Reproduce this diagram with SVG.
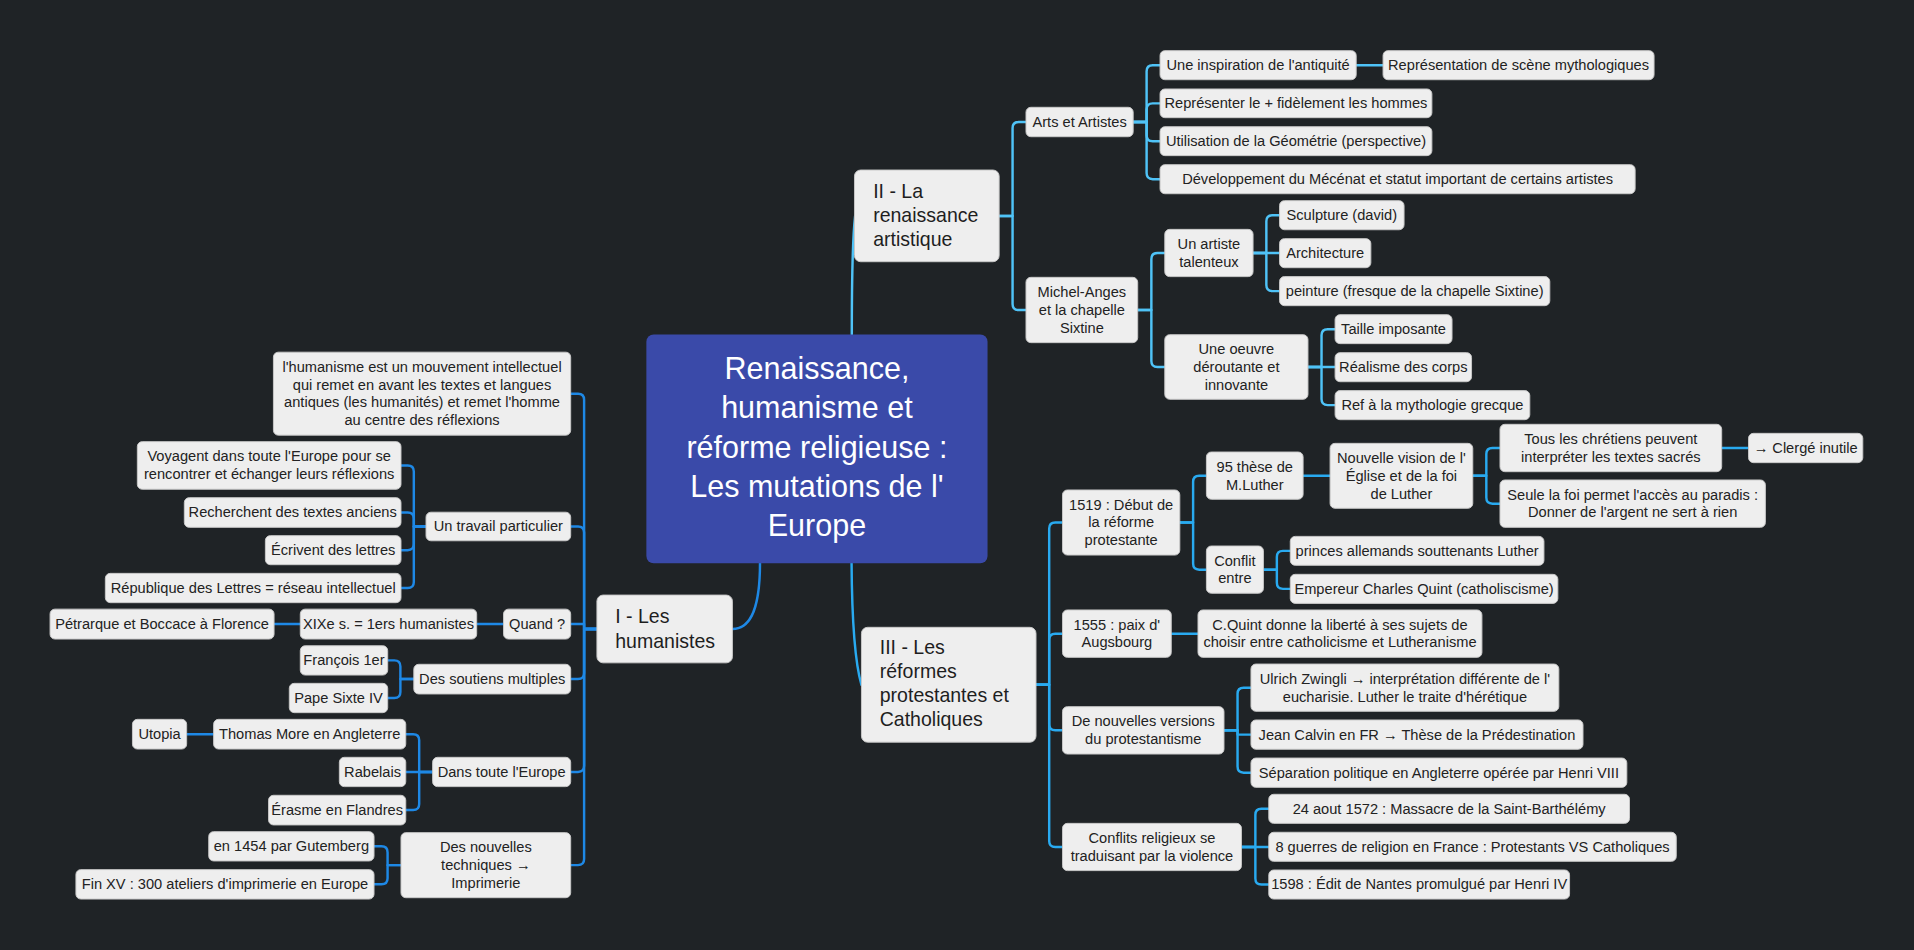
<svg xmlns="http://www.w3.org/2000/svg" width="1914" height="950" viewBox="0 0 1914 950">
<style>
.n rect{fill:#eeeeee;stroke:#c8c8c8;stroke-width:0.8}
.t{font-family:"Liberation Sans",Arial,sans-serif;font-size:12px;fill:#222;text-anchor:middle}
.m{font-family:"Liberation Sans",Arial,sans-serif;font-size:16px;fill:#1e1e1e}
.ct{font-family:"Liberation Sans",Arial,sans-serif;font-size:25px;fill:#ffffff;text-anchor:middle}
.c path{fill:none;stroke-width:2;stroke-linecap:round;stroke-linejoin:round}
.b1 path{stroke:#1e88e5}
.b2 path{stroke:#4fc3f7}
.b3 path{stroke:#29aaf0}
</style>
<rect width="1914" height="950" fill="#1f2326"/>
<g transform="scale(1.2207)">
<g id="connectors" class="c">
<g class="b1">
<path d="M622.6 461 C622.6 505 612 515.3 600 515.3"/>
<path d="M489 515.3 H478.5 V327.5 Q478.5 322.5 473.5 322.5 H467.5"/>
<path d="M489 515.3 H478.5 V436.3 Q478.5 431.3 473.5 431.3 H467.5"/>
<path d="M489 515.3 H478.5 V511.2 H467.5"/>
<path d="M489 515.3 H478.5 V551.3 Q478.5 556.3 473.5 556.3 H467.5"/>
<path d="M489 515.3 H478.5 V627.4 Q478.5 632.4 473.5 632.4 H467.5"/>
<path d="M489 515.3 H478.5 V703.7 Q478.5 708.7 473.5 708.7 H467.5"/>
<path d="M349 431.3 H339 V386.3 Q339 381.3 334 381.3 H328.5"/>
<path d="M349 431.3 H339 V424.8 Q339 419.8 334 419.8 H328.5"/>
<path d="M349 431.3 H339 V445.7 Q339 450.7 334 450.7 H328.5"/>
<path d="M349 431.3 H339 V476.7 Q339 481.7 334 481.7 H328.5"/>
<path d="M412.5 511.2 H390.5"/>
<path d="M246 511.2 H224.5"/>
<path d="M339 556.3 H328 V546 Q328 541 323 541 H317.6"/>
<path d="M339 556.3 H328 V566.8 Q328 571.8 323 571.8 H317.6"/>
<path d="M354.4 632.4 H343.4 V606.5 Q343.4 601.5 338.4 601.5 H332.4"/>
<path d="M354.4 632.4 H332.4"/>
<path d="M354.4 632.4 H343.4 V658.6 Q343.4 663.6 338.4 663.6 H332.4"/>
<path d="M175 601.5 H152.9"/>
<path d="M328.5 708.7 H317.5 V698.3 Q317.5 693.3 312.5 693.3 H306.4"/>
<path d="M328.5 708.7 H317.5 V719.4 Q317.5 724.4 312.5 724.4 H306.4"/>
</g>
<g class="b2">
<path d="M697.8 274 C697.8 220 699 190 700.5 177"/>
<path d="M818.5 176.9 H829.5 V105 Q829.5 100 834.5 100 H840.5"/>
<path d="M818.5 176.9 H829.5 V249 Q829.5 254 834.5 254 H840.5"/>
<path d="M928.3 100 H939.3 V58.4 Q939.3 53.4 944.3 53.4 H950.3"/>
<path d="M928.3 100 H939.3 V89.7 Q939.3 84.7 944.3 84.7 H950.3"/>
<path d="M928.3 100 H939.3 V110.7 Q939.3 115.7 944.3 115.7 H950.3"/>
<path d="M928.3 100 H939.3 V141.8 Q939.3 146.8 944.3 146.8 H950.3"/>
<path d="M1111 53.4 H1133"/>
<path d="M932 254 H943.2 V212.3 Q943.2 207.3 948.2 207.3 H954.2"/>
<path d="M932 254 H943.2 V295.7 Q943.2 300.7 948.2 300.7 H954.2"/>
<path d="M1026.5 207.3 H1037.4 V181.3 Q1037.4 176.3 1042.4 176.3 H1048.2"/>
<path d="M1026.5 207.3 H1048.2"/>
<path d="M1026.5 207.3 H1037.4 V233.5 Q1037.4 238.5 1042.4 238.5 H1048.2"/>
<path d="M1071.5 300.7 H1082.6 V274.7 Q1082.6 269.7 1087.6 269.7 H1093.7"/>
<path d="M1071.5 300.7 H1093.7"/>
<path d="M1071.5 300.7 H1082.6 V326.9 Q1082.6 331.9 1087.6 331.9 H1093.7"/>
</g>
<g class="b3">
<path d="M697.6 461 C698 520 701 545 705.7 561"/>
<path d="M848.7 561 H859.5 V433 Q859.5 428 864.5 428 H870.4"/>
<path d="M848.7 561 H859.5 V524.1 Q859.5 519.1 864.5 519.1 H870.4"/>
<path d="M848.7 561 H859.5 V593.3 Q859.5 598.3 864.5 598.3 H870.4"/>
<path d="M848.7 561 H859.5 V688.9 Q859.5 693.9 864.5 693.9 H870.4"/>
<path d="M966.5 428 H977.4 V394.7 Q977.4 389.7 982.4 389.7 H988.3"/>
<path d="M966.5 428 H977.4 V461.7 Q977.4 466.7 982.4 466.7 H988.3"/>
<path d="M1067.5 389.7 H1089.6"/>
<path d="M1206.5 389.8 H1217.6 V372 Q1217.6 367 1222.6 367 H1228.8"/>
<path d="M1206.5 389.8 H1217.6 V407.6 Q1217.6 412.6 1222.6 412.6 H1228.8"/>
<path d="M1410.4 367 H1432.4"/>
<path d="M1035 466.7 H1046 V456.3 Q1046 451.3 1051 451.3 H1057"/>
<path d="M1035 466.7 H1046 V477.4 Q1046 482.4 1051 482.4 H1057"/>
<path d="M959.5 519.1 H981.4"/>
<path d="M1002.7 598.3 H1013.8 V568.4 Q1013.8 563.4 1018.8 563.4 H1024.8"/>
<path d="M1002.7 598.3 H1013.8 V601.8 H1024.8"/>
<path d="M1002.7 598.3 H1013.8 V628 Q1013.8 633 1018.8 633 H1024.8"/>
<path d="M1017 693.9 H1028.4 V667.6 Q1028.4 662.6 1033.4 662.6 H1039.4"/>
<path d="M1017 693.9 H1039.4"/>
<path d="M1017 693.9 H1028.4 V719.6 Q1028.4 724.6 1033.4 724.6 H1039.4"/>
</g>
</g>

<g id="central"><rect x="529.5" y="274" width="279.5" height="187.5" rx="6" fill="#3a4aa9"/>
<text class="ct" x="669.25" y="310.5"><tspan x="669.25">Renaissance,</tspan><tspan x="669.25" dy="32.2">humanisme et</tspan><tspan x="669.25" dy="32.2">réforme religieuse :</tspan><tspan x="669.25" dy="32.2">Les mutations de l'</tspan><tspan x="669.25" dy="32.2">Europe</tspan></text></g>

<g id="main1" class="n"><rect x="489" y="487.5" width="111" height="55.5" rx="5"/><text class="m" x="504" y="510.5"><tspan x="504">I - Les</tspan><tspan x="504" dy="20.5">humanistes</tspan></text></g>
<g id="main2" class="n"><rect x="700" y="139.3" width="118.5" height="75.1" rx="5"/><text class="m" x="715.3" y="162"><tspan x="715.3">II - La</tspan><tspan x="715.3" dy="19.8">renaissance</tspan><tspan x="715.3" dy="19.8">artistique</tspan></text></g>
<g id="main3" class="n"><rect x="705.7" y="513.9" width="143" height="94.1" rx="5"/><text class="m" x="720.7" y="536"><tspan x="720.7">III - Les</tspan><tspan x="720.7" dy="19.6">réformes</tspan><tspan x="720.7" dy="19.6">protestantes et</tspan><tspan x="720.7" dy="19.6">Catholiques</tspan></text></g>

<g id="n-humanisme" class="n"><rect x="224" y="288.5" width="243.5" height="68" rx="4"/><text class="t" x="345.75" y="304.6"><tspan x="345.75">l'humanisme est un mouvement intellectuel</tspan><tspan x="345.75" dy="14.6">qui remet en avant les textes et langues</tspan><tspan x="345.75" dy="14.6">antiques (les humanités) et remet l'homme</tspan><tspan x="345.75" dy="14.6">au centre des réflexions</tspan></text></g>
<g id="n-travail" class="n"><rect x="349" y="419.6" width="118.5" height="23.4" rx="4"/><text class="t" x="408.25" y="435.3">Un travail particulier</text></g>
<g id="n-voyagent" class="n"><rect x="112.5" y="361.8" width="216" height="39" rx="4"/><text class="t" x="220.5" y="378"><tspan x="220.5">Voyagent dans toute l'Europe pour se</tspan><tspan x="220.5" dy="14.6">rencontrer et échanger leurs réflexions</tspan></text></g>
<g id="n-recherchent" class="n"><rect x="151" y="407.7" width="177.5" height="24.3" rx="4"/><text class="t" x="239.75" y="423.8">Recherchent des textes anciens</text></g>
<g id="n-ecrivent" class="n"><rect x="217.4" y="438.8" width="111.1" height="23.8" rx="4"/><text class="t" x="272.95" y="454.7">Écrivent des lettres</text></g>
<g id="n-republique" class="n"><rect x="86.3" y="469.7" width="242.2" height="24" rx="4"/><text class="t" x="207.4" y="485.7">République des Lettres = réseau intellectuel</text></g>
<g id="n-quand" class="n"><rect x="412.5" y="499" width="55" height="24.5" rx="4"/><text class="t" x="440" y="515.2">Quand ?</text></g>
<g id="n-xixe" class="n"><rect x="246" y="499" width="144.5" height="24.5" rx="4"/><text class="t" x="318.25" y="515.2">XIXe s. = 1ers humanistes</text></g>
<g id="n-petrarque" class="n"><rect x="41" y="499" width="183.5" height="24.5" rx="4"/><text class="t" x="132.75" y="515.2">Pétrarque et Boccace à Florence</text></g>
<g id="n-soutiens" class="n"><rect x="339" y="544.2" width="128.5" height="24.3" rx="4"/><text class="t" x="403.25" y="560.3">Des soutiens multiples</text></g>
<g id="n-francois" class="n"><rect x="246" y="529" width="71.6" height="24" rx="4"/><text class="t" x="281.8" y="545">François 1er</text></g>
<g id="n-pape" class="n"><rect x="237" y="559.8" width="80.6" height="24" rx="4"/><text class="t" x="277.3" y="575.8">Pape Sixte IV</text></g>
<g id="n-europe" class="n"><rect x="354.4" y="620.4" width="113.1" height="24" rx="4"/><text class="t" x="410.95" y="636.4">Dans toute l'Europe</text></g>
<g id="n-thomas" class="n"><rect x="175" y="589.3" width="157.4" height="24.3" rx="4"/><text class="t" x="253.7" y="605.5">Thomas More en Angleterre</text></g>
<g id="n-utopia" class="n"><rect x="108.5" y="589.3" width="44.4" height="24.3" rx="4"/><text class="t" x="130.7" y="605.5">Utopia</text></g>
<g id="n-rabelais" class="n"><rect x="278" y="620.4" width="54.4" height="24" rx="4"/><text class="t" x="305.2" y="636.4">Rabelais</text></g>
<g id="n-erasme" class="n"><rect x="220" y="651.5" width="112.4" height="24.3" rx="4"/><text class="t" x="276.2" y="667.6">Érasme en Flandres</text></g>
<g id="n-techniques" class="n"><rect x="328.5" y="682.1" width="139" height="53.3" rx="4"/><text class="t" x="398" y="698.1"><tspan x="398">Des nouvelles</tspan><tspan x="398" dy="14.6">techniques →</tspan><tspan x="398" dy="14.6">Imprimerie</tspan></text></g>
<g id="n-gutemberg" class="n"><rect x="171" y="681.3" width="135.4" height="24" rx="4"/><text class="t" x="238.7" y="697.3">en 1454 par Gutemberg</text></g>
<g id="n-finxv" class="n"><rect x="62.2" y="712.4" width="244.2" height="24.1" rx="4"/><text class="t" x="184.3" y="728.4">Fin XV : 300 ateliers d'imprimerie en Europe</text></g>

<g id="n-arts" class="n"><rect x="840.5" y="87.9" width="87.8" height="24.1" rx="4"/><text class="t" x="884.4" y="104">Arts et Artistes</text></g>
<g id="n-michel" class="n"><rect x="840.5" y="227.2" width="91.5" height="53.5" rx="4"/><text class="t" x="886.25" y="243.4"><tspan x="886.25">Michel-Anges</tspan><tspan x="886.25" dy="14.6">et la chapelle</tspan><tspan x="886.25" dy="14.6">Sixtine</tspan></text></g>
<g id="n-inspiration" class="n"><rect x="950.3" y="41.5" width="160.7" height="23.8" rx="4"/><text class="t" x="1030.65" y="57.4">Une inspiration de l'antiquité</text></g>
<g id="n-scene" class="n"><rect x="1133" y="41.5" width="222" height="23.8" rx="4"/><text class="t" x="1244" y="57.4">Représentation de scène mythologiques</text></g>
<g id="n-representer" class="n"><rect x="950.3" y="72.9" width="222.7" height="23.5" rx="4"/><text class="t" x="1061.65" y="88.7">Représenter le + fidèlement les hommes</text></g>
<g id="n-geometrie" class="n"><rect x="950.3" y="103.8" width="222.7" height="23.7" rx="4"/><text class="t" x="1061.65" y="119.7">Utilisation de la Géométrie (perspective)</text></g>
<g id="n-mecenat" class="n"><rect x="950.3" y="134.9" width="389.2" height="23.8" rx="4"/><text class="t" x="1144.9" y="150.8">Développement du Mécénat et statut important de certains artistes</text></g>
<g id="n-artiste" class="n"><rect x="954.2" y="187.9" width="72.3" height="38.7" rx="4"/><text class="t" x="990.35" y="204"><tspan x="990.35">Un artiste</tspan><tspan x="990.35" dy="14.6">talenteux</tspan></text></g>
<g id="n-sculpture" class="n"><rect x="1048.2" y="164.4" width="102" height="23.8" rx="4"/><text class="t" x="1099.2" y="180.3">Sculpture (david)</text></g>
<g id="n-architecture" class="n"><rect x="1048.2" y="195.5" width="74.8" height="23.8" rx="4"/><text class="t" x="1085.6" y="211.4">Architecture</text></g>
<g id="n-peinture" class="n"><rect x="1048.2" y="226.6" width="221.4" height="23.8" rx="4"/><text class="t" x="1158.9" y="242.5">peinture (fresque de la chapelle Sixtine)</text></g>
<g id="n-oeuvre" class="n"><rect x="954.2" y="274.2" width="117.3" height="52.9" rx="4"/><text class="t" x="1012.85" y="290.1"><tspan x="1012.85">Une oeuvre</tspan><tspan x="1012.85" dy="14.6">déroutante et</tspan><tspan x="1012.85" dy="14.6">innovante</tspan></text></g>
<g id="n-taille" class="n"><rect x="1093.7" y="257.8" width="95.8" height="23.7" rx="4"/><text class="t" x="1141.6" y="273.7">Taille imposante</text></g>
<g id="n-realisme" class="n"><rect x="1093.7" y="288.9" width="111.8" height="23.8" rx="4"/><text class="t" x="1149.6" y="304.8">Réalisme des corps</text></g>
<g id="n-ref" class="n"><rect x="1093.7" y="320" width="159.5" height="23.8" rx="4"/><text class="t" x="1173.45" y="335.9">Ref à la mythologie grecque</text></g>

<g id="n-1519" class="n"><rect x="870.4" y="401.4" width="96.1" height="53.3" rx="4"/><text class="t" x="918.45" y="417.4"><tspan x="918.45">1519 : Début de</tspan><tspan x="918.45" dy="14.6">la réforme</tspan><tspan x="918.45" dy="14.6">protestante</tspan></text></g>
<g id="n-95" class="n"><rect x="988.3" y="370.3" width="79.2" height="38.7" rx="4"/><text class="t" x="1027.9" y="386.4"><tspan x="1027.9">95 thèse de</tspan><tspan x="1027.9" dy="14.6">M.Luther</tspan></text></g>
<g id="n-nouvelle" class="n"><rect x="1089.6" y="363.2" width="116.9" height="53.2" rx="4"/><text class="t" x="1148.05" y="379.2"><tspan x="1148.05">Nouvelle vision de l'</tspan><tspan x="1148.05" dy="14.6">Église et de la foi</tspan><tspan x="1148.05" dy="14.6">de Luther</tspan></text></g>
<g id="n-tous" class="n"><rect x="1228.8" y="347.6" width="181.6" height="38.8" rx="4"/><text class="t" x="1319.6" y="363.7"><tspan x="1319.6">Tous les chrétiens peuvent</tspan><tspan x="1319.6" dy="14.6">interpréter les textes sacrés</tspan></text></g>
<g id="n-clerge" class="n"><rect x="1432.4" y="355" width="93.6" height="24" rx="4"/><text class="t" x="1479.2" y="371">→ Clergé inutile</text></g>
<g id="n-seule" class="n"><rect x="1228.8" y="393.2" width="217.4" height="38.8" rx="4"/><text class="t" x="1337.5" y="409.3"><tspan x="1337.5">Seule la foi permet l'accès au paradis :</tspan><tspan x="1337.5" dy="14.6">Donner de l'argent ne sert à rien</tspan></text></g>
<g id="n-conflit" class="n"><rect x="988.3" y="447.3" width="46.7" height="38.7" rx="4"/><text class="t" x="1011.65" y="463.4"><tspan x="1011.65">Conflit</tspan><tspan x="1011.65" dy="14.6">entre</tspan></text></g>
<g id="n-princes" class="n"><rect x="1057" y="439.4" width="207.8" height="23.7" rx="4"/><text class="t" x="1160.9" y="455.3">princes allemands souttenants Luther</text></g>
<g id="n-empereur" class="n"><rect x="1057" y="470.5" width="219.2" height="23.8" rx="4"/><text class="t" x="1166.6" y="486.4">Empereur Charles Quint (catholiscisme)</text></g>
<g id="n-1555" class="n"><rect x="870.4" y="499.7" width="89.1" height="38.8" rx="4"/><text class="t" x="914.95" y="515.8"><tspan x="914.95">1555 : paix d'</tspan><tspan x="914.95" dy="14.6">Augsbourg</tspan></text></g>
<g id="n-cquint" class="n"><rect x="981.4" y="499.7" width="232.6" height="38.8" rx="4"/><text class="t" x="1097.7" y="515.8"><tspan x="1097.7">C.Quint donne la liberté à ses sujets de</tspan><tspan x="1097.7" dy="14.6">choisir entre catholicisme et Lutheranisme</tspan></text></g>
<g id="n-versions" class="n"><rect x="870.4" y="578.9" width="132.3" height="38.8" rx="4"/><text class="t" x="936.55" y="595"><tspan x="936.55">De nouvelles versions</tspan><tspan x="936.55" dy="14.6">du protestantisme</tspan></text></g>
<g id="n-zwingli" class="n"><rect x="1024.8" y="544" width="252.2" height="38.7" rx="4"/><text class="t" x="1150.9" y="560.1"><tspan x="1150.9">Ulrich Zwingli → interprétation différente de l'</tspan><tspan x="1150.9" dy="14.6">eucharisie. Luther le traite d'hérétique</tspan></text></g>
<g id="n-calvin" class="n"><rect x="1024.8" y="589.8" width="272" height="24" rx="4"/><text class="t" x="1160.8" y="605.8">Jean Calvin en FR → Thèse de la Prédestination</text></g>
<g id="n-separation" class="n"><rect x="1024.8" y="621" width="307.9" height="24" rx="4"/><text class="t" x="1178.75" y="637">Séparation politique en Angleterre opérée par Henri VIII</text></g>
<g id="n-conflits" class="n"><rect x="870.4" y="674.5" width="146.6" height="38.7" rx="4"/><text class="t" x="943.7" y="690.6"><tspan x="943.7">Conflits religieux se</tspan><tspan x="943.7" dy="14.6">traduisant par la violence</tspan></text></g>
<g id="n-1572" class="n"><rect x="1039.4" y="650.7" width="295.5" height="23.8" rx="4"/><text class="t" x="1187.15" y="666.6">24 aout 1572 : Massacre de la Saint-Barthélémy</text></g>
<g id="n-guerres" class="n"><rect x="1039.4" y="681.8" width="333.8" height="23.8" rx="4"/><text class="t" x="1206.3" y="697.7">8 guerres de religion en France : Protestants VS Catholiques</text></g>
<g id="n-1598" class="n"><rect x="1039.4" y="712.7" width="246.4" height="23.8" rx="4"/><text class="t" x="1162.6" y="728.6">1598 : Édit de Nantes promulgué par Henri IV</text></g>
</g>
</svg>
